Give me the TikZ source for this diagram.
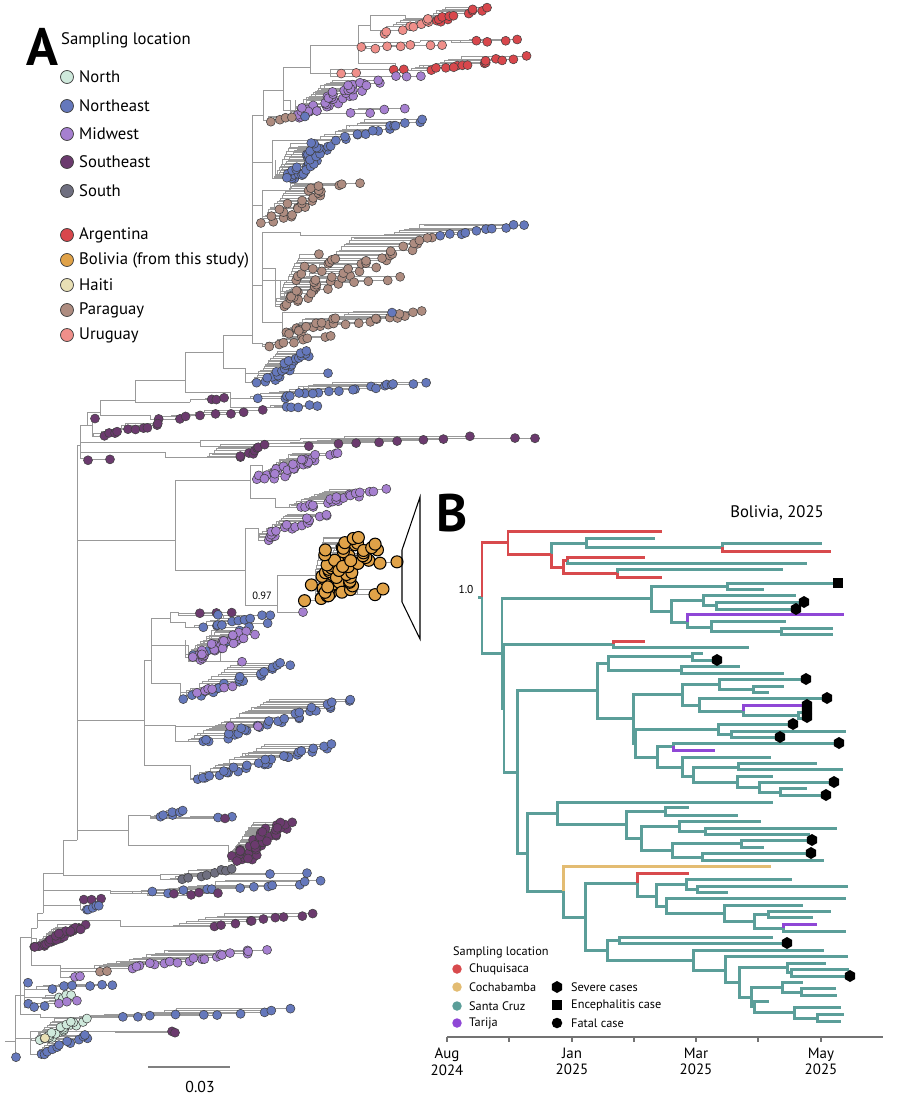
\documentclass[tikz,border=0pt]{standalone}
\usepackage{fontspec}
\setmainfont{PT Sans}
\usetikzlibrary{shapes.geometric}

% panel A colours
\definecolor{north}{HTML}{CFE9DC}
\definecolor{ne}{HTML}{6578BC}
\definecolor{mid}{HTML}{A680D0}
\definecolor{se}{HTML}{6B3A6E}
\definecolor{south}{HTML}{6F6F80}
\definecolor{arg}{HTML}{D8474C}
\definecolor{bol}{HTML}{E0A248}
\definecolor{haiti}{HTML}{E9E0B5}
\definecolor{par}{HTML}{AE8C80}
\definecolor{uru}{HTML}{EF8F8A}
% panel B colours
\definecolor{bTeal}{HTML}{5B9E99}
\definecolor{bRed}{HTML}{D84A4D}
\definecolor{bSand}{HTML}{E3BC72}
\definecolor{bPurple}{HTML}{8F47D6}

\tikzset{
  br/.style={draw=gray!80, line width=0.35pt},
  tipdot/.style={draw=black!75, line width=0.3pt},
  bt/.style={draw=bTeal, line width=1.7pt},
  bred/.style={draw=bRed, line width=1.7pt},
  bsand/.style={draw=bSand, line width=1.7pt},
  bpur/.style={draw=bPurple, line width=1.7pt},
  hexm/.style={regular polygon, regular polygon sides=6, shape border rotate=90, fill=black, inner sep=0pt, minimum size=0.24cm},
  sqm/.style={rectangle, fill=black, inner sep=0pt, minimum size=0.21cm},
  fatm/.style={circle, fill=black, inner sep=0pt, minimum size=0.21cm},
  keyA/.style={circle, draw=black!75, line width=0.4pt, inner sep=0pt, minimum size=0.26cm},
  keyB/.style={circle, inner sep=0pt, minimum size=0.19cm},
  lblA/.style={anchor=west, font=\fontsize{9.5}{11}\selectfont},
  lblB/.style={anchor=west, font=\fontsize{7}{8}\selectfont},
}

\newif\ifdots
\def\dotr{0.09cm}
% one clade: root x/y, first tip x/y, last tip x/y, tips, colour, spread
\newcommand{\clade}[9]{%
  \pgfmathsetseed{\number\numexpr#7*97+#4+#3\relax}%
  \xdef\cpx{#1}\xdef\cpy{#2}%
  \foreach \k in {1,...,#7}{%
    \pgfmathsetmacro\tf{(\k-1)/max(#7-1,1)}%
    \pgfmathsetmacro\ty{#4+(#6-#4)*\tf+(rnd-0.5)*3}%
    \pgfmathsetmacro\tx{#3+(#5-#3)*\tf+(rnd-0.5)*#9}%
    \pgfmathsetmacro\ix{max(#1,#1+(#3+(#5-#3)*\tf-0.5*#9-#1)*0.6)}%
    \ifdots
      \path[tipdot, fill=#8] (\tx,\ty) circle[radius=\dotr];
    \else
      \draw[br] (\cpx,\cpy) |- (\tx,\ty);
    \fi
    \xdef\cpx{\ix}\xdef\cpy{\ty}%
  }%
}

\begin{document}
\begin{tikzpicture}[x=0.02cm, y=-0.02cm]
\useasboundingbox (0,0) rectangle (900,1102);
\fill[white] (0,0) rectangle (900,1102);

% ---------------- Panel A ----------------
\node[font=\fontsize{30}{30}\selectfont\bfseries] (labA) at (42,47) {A};
\node[lblA] (keyAtitle) at (55,40) {Sampling location};
\foreach \c/\t/\y [count=\i] in {north/North/77, ne/Northeast/106, mid/Midwest/134, se/Southeast/162, south/South/191,
    arg/Argentina/235, bol/Bolivia (from this study)/260, haiti/Haiti/285, par/Paraguay/310, uru/Uruguay/335} {
  \node[keyA, fill=\c] (kA\i) at (67,\y) {};
  \node[lblA] (kAt\i) at (73,\y) {\t};
}

% backbone
\draw[br] (5,1041) -- (15,1041);
\foreach \px/\py/\cx/\cy in {
  15/1041/20/995, 15/1041/30/1038,
  20/995/40/1014, 20/995/24/995, 20/995/31/937,
  31/937/36/938, 31/937/60/965, 31/937/37/928,
  37/928/120/920, 37/928/43/913,
  43/913/80/905, 43/913/110/890, 43/913/63/873,
  63/873/160/875, 63/873/77/840,
  77/840/128/830, 77/840/144/720, 77/840/175/540, 77/840/80/445,
  128/830/228/845, 128/830/150/815,
  144/720/190/765, 144/720/175/725, 144/720/151/660,
  151/660/180/683, 151/660/188/645, 151/660/170/618,
  170/618/185/622, 170/618/178/612,
  175/540/250/480, 175/540/245/570,
  250/480/262/465, 250/480/275/498,
  245/570/258/528, 245/570/277/605,
  277/605/315/575,
  80/445/85/458, 80/445/165/452, 80/445/200/442, 80/445/87/425,
  200/442/300/440,
  87/425/92/425, 87/425/100/412,
  100/412/150/415, 100/412/135/400,
  135/400/190/402, 135/400/185/380,
  185/380/230/392, 185/380/223/352,
  223/352/245/368, 223/352/252/335,
  252/335/262/343, 252/335/262/285, 252/335/262/205, 252/335/272/162, 252/335/263/115,
  262/285/300/232, 262/285/275/268, 262/285/300/280, 262/285/282/322,
  272/162/300/140, 262/205/290/190,
  263/115/268/120, 263/115/283/90,
  283/90/290/100, 283/90/320/110, 283/90/310/67,
  310/67/330/73, 310/67/358/45,
  358/45/362/48, 358/45/395/63, 358/45/370/25,
  362/48/420/42,
  370/25/380/30, 370/25/405/15}
  \draw[br] (\px,\py) |- (\cx,\cy);

\def\allclades{%
% Argentina / Uruguay / Midwest (top)
\clade{380}{30}{390}{33}{440}{17}{10}{uru}{20}
\clade{405}{15}{430}{22}{485}{8}{12}{arg}{16}
\clade{362}{48}{362}{48}{440}{44}{7}{uru}{10}
\clade{420}{42}{475}{42}{520}{38}{4}{arg}{6}
\clade{395}{63}{430}{70}{520}{57}{14}{arg}{16}
\clade{330}{73}{343}{73}{355}{72}{2}{uru}{4}
\clade{330}{73}{393}{70}{405}{70}{2}{arg}{4}
\clade{330}{73}{395}{77}{420}{76}{3}{mid}{4}
\clade{290}{100}{298}{117}{375}{80}{26}{mid}{24}
\clade{295}{100}{305}{112}{360}{85}{15}{mid}{30}
\clade{320}{110}{350}{113}{405}{110}{4}{mid}{6}
\clade{268}{120}{272}{121}{292}{118}{4}{par}{4}
\clade{268}{120}{305}{117}{305}{117}{1}{ne}{0}
% Northeast / Paraguay
\clade{272}{162}{285}{180}{330}{145}{25}{ne}{22}
\clade{275}{160}{288}{178}{318}{142}{15}{ne}{26}
\clade{300}{140}{335}{140}{420}{120}{15}{ne}{14}
\clade{262}{205}{270}{222}{330}{183}{25}{par}{24}
\clade{290}{190}{360}{183}{360}{183}{1}{par}{0}
\clade{300}{232}{445}{235}{520}{225}{10}{ne}{10}
\clade{275}{268}{283}{305}{425}{237}{35}{par}{28}
\clade{280}{280}{290}{300}{330}{255}{20}{par}{30}
\clade{300}{280}{355}{281}{400}{278}{4}{par}{6}
\clade{282}{322}{290}{332}{420}{312}{18}{par}{24}
\clade{282}{325}{292}{335}{335}{318}{10}{par}{20}
\clade{282}{322}{392}{313}{392}{313}{1}{ne}{0}
\clade{262}{343}{265}{347}{330}{335}{8}{par}{10}
\clade{245}{368}{265}{382}{310}{352}{25}{ne}{18}
\clade{245}{368}{328}{373}{328}{373}{1}{ne}{0}
\clade{230}{392}{267}{398}{420}{382}{20}{ne}{22}
\clade{230}{392}{285}{408}{315}{405}{5}{ne}{6}
% Southeast
\clade{190}{402}{210}{400}{225}{398}{3}{se}{4}
\clade{150}{415}{163}{420}{260}{410}{8}{se}{12}
\clade{92}{425}{95}{418}{95}{418}{1}{se}{0}
\clade{92}{425}{100}{435}{160}{425}{10}{se}{10}
\clade{85}{458}{88}{460}{110}{460}{2}{se}{0}
\clade{165}{452}{240}{458}{265}{445}{8}{se}{8}
\clade{200}{442}{310}{445}{470}{437}{8}{se}{12}
\clade{300}{440}{515}{437}{535}{437}{2}{se}{0}
% Midwest and Bolivia
\clade{262}{465}{265}{478}{330}{452}{20}{mid}{20}
\clade{262}{465}{268}{480}{310}{458}{10}{mid}{20}
\clade{275}{498}{300}{508}{380}{490}{20}{mid}{20}
\clade{258}{528}{260}{540}{320}{515}{20}{mid}{20}
\clade{277}{605}{303}{611}{303}{611}{1}{mid}{0}
\def\dotr{0.12cm}\tikzset{tipdot/.style={draw=black, line width=0.6pt}}%
\clade{315}{575}{318}{600}{345}{538}{35}{bol}{30}
\clade{315}{575}{335}{595}{365}{545}{25}{bol}{30}
\clade{330}{560}{380}{562}{397}{562}{2}{bol}{0}
\clade{330}{590}{375}{595}{383}{588}{2}{bol}{0}
\def\dotr{0.09cm}\tikzset{tipdot/.style={draw=black!75, line width=0.3pt}}%
% lower clades
\clade{178}{612}{200}{612}{230}{613}{3}{se}{4}
\clade{178}{612}{218}{614}{218}{614}{1}{ne}{0}
\clade{185}{622}{205}{628}{268}{615}{10}{ne}{10}
\clade{188}{645}{200}{655}{260}{622}{8}{ne}{16}
\clade{188}{645}{193}{660}{245}{632}{20}{mid}{16}
\clade{185}{640}{195}{658}{240}{635}{10}{mid}{20}
\clade{188}{645}{242}{661}{255}{635}{2}{mid}{0}
\clade{180}{683}{190}{698}{290}{662}{20}{ne}{20}
\clade{180}{683}{195}{693}{230}{685}{6}{mid}{8}
\clade{175}{725}{205}{742}{350}{700}{30}{ne}{24}
\clade{175}{725}{230}{725}{258}{727}{2}{mid}{0}
\clade{190}{765}{200}{780}{330}{745}{30}{ne}{24}
\clade{150}{815}{160}{818}{185}{810}{6}{ne}{6}
\clade{150}{815}{218}{818}{232}{818}{2}{ne}{0}
\clade{150}{815}{225}{817}{225}{817}{1}{se}{0}
\clade{228}{845}{235}{860}{285}{822}{30}{se}{22}
\clade{228}{850}{240}{862}{275}{828}{15}{se}{20}
\clade{160}{875}{183}{878}{235}{868}{8}{south}{10}
\clade{160}{875}{270}{873}{307}{873}{2}{ne}{0}
\clade{110}{890}{155}{893}{325}{882}{12}{ne}{16}
\clade{110}{890}{175}{895}{215}{893}{4}{se}{6}
\clade{80}{905}{85}{900}{100}{898}{3}{se}{4}
\clade{80}{905}{85}{910}{100}{905}{5}{ne}{4}
\clade{120}{920}{215}{925}{310}{915}{10}{se}{12}
\clade{36}{938}{38}{948}{80}{925}{20}{se}{14}
\clade{36}{940}{40}{947}{75}{928}{10}{se}{14}
\clade{60}{965}{128}{968}{265}{950}{20}{mid}{20}
\clade{60}{965}{100}{972}{107}{972}{2}{par}{0}
\clade{60}{965}{75}{977}{80}{977}{2}{mid}{0}
\clade{24}{995}{28}{983}{28}{983}{1}{ne}{0}
\clade{24}{995}{50}{988}{110}{985}{6}{ne}{10}
\clade{24}{995}{58}{998}{70}{995}{4}{north}{6}
\clade{24}{995}{60}{1003}{75}{1000}{3}{mid}{4}
\clade{24}{995}{27}{1005}{45}{1007}{3}{ne}{4}
\clade{40}{1014}{115}{1018}{297}{1010}{10}{ne}{18}
\clade{30}{1038}{40}{1040}{80}{1020}{20}{north}{14}
\clade{30}{1038}{45}{1055}{90}{1035}{12}{ne}{14}
\clade{30}{1038}{172}{1032}{175}{1032}{2}{se}{0}
\clade{30}{1038}{45}{1038}{45}{1038}{1}{haiti}{0}
\clade{15}{1041}{16}{1057}{16}{1057}{1}{ne}{0}
}
% branches first, then tips on top
\dotsfalse\allclades
\dotstrue\allclades

\node[font=\fontsize{6}{7}\selectfont] (pp097) at (262,596) {0.97};
\draw[line width=0.6pt] (402,550) -- (420,497) -- (420,639) -- (402,602) -- cycle;

% scale bar
\draw[gray, line width=0.6pt] (148,1067) -- (230,1067);
\node[font=\fontsize{9}{10}\selectfont] (scl) at (200,1087) {0.03};

% ---------------- Panel B ----------------
\node[font=\fontsize{30}{30}\selectfont\bfseries] (labB) at (452,513) {B};
\node[font=\fontsize{9.5}{11}\selectfont] (ttlB) at (777,513) {Bolivia, 2025};
\node[font=\fontsize{6.5}{7}\selectfont] (pp10) at (466,589) {1.0};
\draw[bt] (478,597) -- (482,597);

% Santa Cruz branches
\foreach \px/\py/\cx/\cy in {
  482/597/502/653, 502/653/651/598, 502/653/504/708,
  651/598/727/586, 727/586/833/583, 727/586/764/589, 651/598/671/611,
  671/611/703/600, 703/600/796/595, 703/600/716/605, 716/605/800/602, 716/605/795/609,
  671/611/687/622, 687/622/711/627, 711/627/786/621, 711/627/781/631, 781/631/833/628, 781/631/833/634,
  504/708/613/644, 613/644/749/647, 504/708/517/772,
  517/772/597/690, 517/772/527/853,
  597/690/608/663, 597/690/633/718,
  608/663/692/656, 608/663/681/670, 692/656/703/653, 692/656/713/660, 681/670/740/666, 681/670/784/673,
  633/718/682/694, 633/718/635/743,
  682/694/719/684, 682/694/699/705, 719/684/801/679, 719/684/753/689, 753/689/784/686, 753/689/769/692,
  699/705/823/698, 699/705/743/711, 743/711/798/715, 798/715/803/712, 798/715/803/718,
  635/743/718/729, 635/743/657/757, 718/729/790/724, 718/729/731/734, 731/734/846/731, 731/734/776/737,
  657/757/673/746, 657/757/682/767, 673/746/835/743,
  682/767/771/757, 682/767/693/776, 693/776/738/767, 693/776/737/782, 738/767/817/763, 738/767/843/769,
  737/782/773/776, 737/782/759/787, 759/787/831/782, 759/787/780/792, 780/792/807/788, 780/792/822/795,
  527/853/557/813, 527/853/563/891,
  557/813/773/802, 557/813/626/824, 626/824/665/811, 626/824/641/838, 665/811/689/807, 665/811/738/815,
  641/838/679/826, 641/838/672/850, 679/826/761/821, 679/826/705/831, 705/831/837/828, 705/831/810/834,
  672/850/741/843, 672/850/702/857, 741/843/810/840, 741/843/764/847, 702/857/808/853, 702/857/824/860,
  563/891/585/917, 585/917/637/883, 585/917/607/950,
  637/883/656/896, 656/896/686/884, 656/896/666/906, 686/884/792/879, 686/884/697/889, 697/889/848/886, 697/889/728/892,
  666/906/846/898, 666/906/724/913, 724/913/803/905, 724/913/754/921, 754/921/768/914, 754/921/783/928,
  768/914/831/911, 768/914/813/917, 783/928/846/931,
  607/950/619/940, 607/950/693/960, 619/940/773/937, 619/940/783/943,
  693/960/824/950, 693/960/725/970, 725/970/848/956, 725/970/739/982,
  739/982/787/967, 739/982/751/997, 787/967/826/963, 787/967/791/972, 791/972/849/969, 791/972/847/976,
  751/997/782/987, 751/997/754/1006, 782/987/803/982, 782/987/801/992, 801/992/836/988, 801/992/837/995,
  754/1006/769/1001, 754/1006/794/1012, 794/1012/841/1007, 794/1012/817/1018, 817/1018/844/1014, 817/1018/841/1021,
  551/554/586/543, 586/543/655/538, 586/543/722/547, 722/547/822/543,
  567/560/807/563, 617/573/783/569}
  \draw[bt] (\px,\py) |- (\cx,\cy);
% Chuquisaca branches
\foreach \px/\py/\cx/\cy in {
  482/597/508/542, 508/542/662/531, 508/542/551/554, 551/554/563/567,
  563/567/567/560, 563/567/617/573, 567/560/645/557, 617/573/662/577,
  722/547/831/551, 613/644/645/641, 637/883/689/873}
  \draw[bred] (\px,\py) |- (\cx,\cy);
% Cochabamba branch
\draw[bsand] (563,891) |- (771,866);
% Tarija branches
\foreach \px/\py/\cx/\cy in {687/622/844/614, 743/711/803/705, 673/746/715/750, 783/928/817/924}
  \draw[bpur] (\px,\py) |- (\cx,\cy);

% case symbols
\node[sqm] (enc1) at (838,583) {};
\foreach \mx/\my [count=\i] in {804/602, 796/609, 717/660, 806/679, 827/698, 807/705, 807/711, 807/717,
    793/724, 780/737, 839/743, 834/782, 826/795, 812/840, 811/853, 787/943, 850/976}
  \node[hexm] (sev\i) at (\mx,\my) {};

% legend B
\node[lblB] (keyBtitle) at (447,952) {Sampling location};
\foreach \c/\t/\y [count=\i] in {bRed/Chuquisaca/969, bSand/Cochabamba/987, bTeal/Santa Cruz/1006, bPurple/Tarija/1023} {
  \node[keyB, fill=\c] (kB\i) at (457,\y) {};
  \node[lblB] (kBt\i) at (463,\y) {\t};
}
\node[hexm] (symS) at (557,987) {};
\node[lblB] (symSt) at (565,987) {Severe cases};
\node[sqm] (symE) at (557,1005) {};
\node[lblB] (symEt) at (565,1005) {Encephalitis case};
\node[fatm] (symF) at (557,1023) {};
\node[lblB] (symFt) at (565,1023) {Fatal case};

% time axis
\draw[gray!90!black, line width=0.6pt] (447,1037) -- (883,1037);
\foreach \tx in {447,509,572,634,696,758,821}
  \draw[gray!90!black, line width=0.6pt] (\tx,1037) -- (\tx,1042);
\foreach \tx/\tl [count=\i] in {447/Aug\\2024, 572/Jan\\2025, 696/Mar\\2025, 821/May\\2025}
  \node[anchor=north, align=center, font=\fontsize{8.5}{9.2}\selectfont] (ax\i) at (\tx,1042) {\tl};
\end{tikzpicture}
\end{document}
